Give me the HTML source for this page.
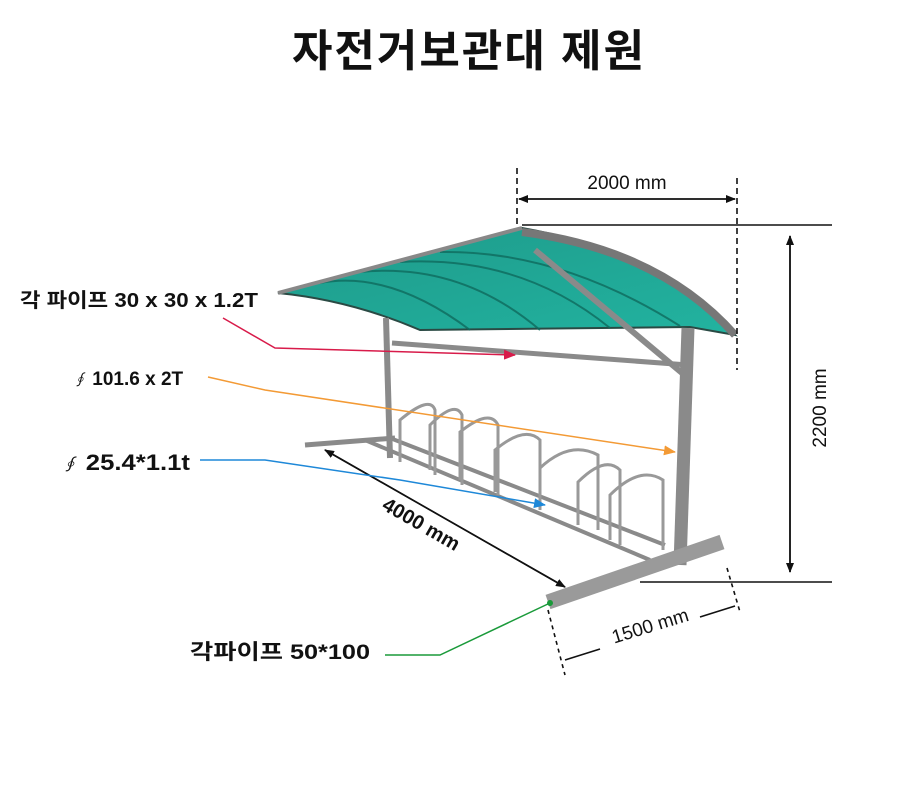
<!DOCTYPE html>
<html><head><meta charset="utf-8"><style>
html,body{margin:0;padding:0;background:#fff;}
svg{display:block;}
text{font-family:"Liberation Sans","Noto Sans CJK KR",sans-serif;fill:#111;}
</style></head><body>
<svg width="900" height="809" viewBox="0 0 900 809" xmlns="http://www.w3.org/2000/svg">
<defs>
<marker id="ak" markerWidth="10" markerHeight="8" refX="9" refY="4" orient="auto" markerUnits="userSpaceOnUse"><path d="M0,0 L10,4 L0,8 Z" fill="#111"/></marker>
<marker id="ar" markerWidth="12" markerHeight="10" refX="11" refY="5" orient="auto" markerUnits="userSpaceOnUse"><path d="M0,0 L12,5 L0,10 Z" fill="#d81b4a"/></marker>
<marker id="ao" markerWidth="12" markerHeight="10" refX="11" refY="5" orient="auto" markerUnits="userSpaceOnUse"><path d="M0,0 L12,5 L0,10 Z" fill="#f39a35"/></marker>
<marker id="ab" markerWidth="12" markerHeight="10" refX="11" refY="5" orient="auto" markerUnits="userSpaceOnUse"><path d="M0,0 L12,5 L0,10 Z" fill="#1e88d8"/></marker>
<marker id="ag" markerWidth="8" markerHeight="8" refX="4" refY="4" orient="auto" markerUnits="userSpaceOnUse"><circle cx="4" cy="4" r="3" fill="#1a9a3a"/></marker>
<linearGradient id="tg" x1="0" y1="0" x2="1" y2="1"><stop offset="0" stop-color="#1e9a8a"/><stop offset="1" stop-color="#22b3a0"/></linearGradient>
</defs>

<text x="469" y="66" text-anchor="middle" font-size="44" font-weight="bold" letter-spacing="2">자전거보관대 제원</text>

<path d="M278,293 L522,228 Q650,250 735,335 L690,327 L420,330 Q350,300 278,293 Z" fill="url(#tg)" stroke="#2a4a44" stroke-width="2"/>
<g stroke="#0f6b5e" stroke-width="2" fill="none" opacity="0.8">
<path d="M320,283 Q390,270 470,330"/><path d="M360,272 Q460,262 540,330"/><path d="M400,262 Q520,255 610,328"/><path d="M440,252 Q560,250 680,326"/>
</g>
<path d="M278,293 L522,228" stroke="#888" stroke-width="4"/>
<path d="M522,232 Q660,250 735,335" stroke="#777" stroke-width="8" fill="none"/>
<g stroke="#8a8a8a" fill="none">
<path d="M535,250 L688,378" stroke-width="6"/>
<path d="M392,343 L688,365" stroke-width="5"/>
<path d="M386,318 L390,458" stroke-width="6"/>
<path d="M688,328 L680,565" stroke-width="13"/>
<path d="M305,445 L395,438" stroke-width="5"/>
<path d="M365,440 L650,560" stroke-width="4"/>
<path d="M390,438 L665,545" stroke-width="4"/>
<path d="M548,602 L722,542" stroke-width="15" stroke="#9a9a9a"/>
</g>
<g stroke="#999" stroke-width="3" fill="none">
<path d="M400,462 L400,420 Q430,395 435,410 L435,475"/>
<path d="M430,470 L430,425 Q455,400 462,415 L462,485"/>
<path d="M460,480 L460,432 Q490,408 498,425 L498,495"/>
<path d="M495,492 L495,450 Q525,425 540,440 L540,510"/>
<path d="M540,510 L540,468 Q570,440 598,455 L598,530"/>
<path d="M578,525 L578,482 Q605,455 620,470 L620,545"/>
<path d="M610,540 L610,495 Q640,465 663,480 L663,550"/>
</g>

<g stroke="#111" stroke-width="1.6">
<line x1="517" y1="168" x2="517" y2="226" stroke-dasharray="6,4"/>
<line x1="737" y1="178" x2="737" y2="370" stroke-dasharray="6,4"/>
<line x1="519" y1="199" x2="735" y2="199" marker-end="url(#ak)"/>
<line x1="735" y1="199" x2="519" y2="199" marker-end="url(#ak)"/>
<line x1="522" y1="225" x2="832" y2="225"/>
<line x1="640" y1="582" x2="832" y2="582"/>
<line x1="790" y1="572" x2="790" y2="236" marker-end="url(#ak)"/>
<line x1="790" y1="236" x2="790" y2="572" marker-end="url(#ak)"/>
<line x1="325" y1="450" x2="565" y2="587" marker-end="url(#ak)"/>
<line x1="565" y1="587" x2="325" y2="450" marker-end="url(#ak)"/>
<line x1="548" y1="610" x2="565" y2="675" stroke-dasharray="4,4"/>
<line x1="727" y1="568" x2="740" y2="612" stroke-dasharray="4,4"/>
<line x1="565" y1="660" x2="600" y2="649"/>
<line x1="700" y1="617" x2="735" y2="606"/>
</g>
<text x="627" y="189" text-anchor="middle" font-size="19">2000 mm</text>
<text transform="translate(826,408) rotate(-90)" text-anchor="middle" font-size="19">2200 mm</text>
<text transform="translate(418,530) rotate(30)" text-anchor="middle" font-size="20" font-weight="bold">4000 mm</text>
<text transform="translate(652,632) rotate(-17)" text-anchor="middle" font-size="19">1500 mm</text>

<text x="20" y="307" font-size="20" font-weight="bold" textLength="238" lengthAdjust="spacingAndGlyphs">각 파이프 30 x 30 x 1.2T</text>
<text x="72" y="385" font-size="19" font-weight="bold"><tspan font-style="italic" font-weight="normal" font-size="15">∮</tspan> 101.6 x 2T</text>
<text x="60" y="470" font-size="22" font-weight="bold" textLength="130" lengthAdjust="spacingAndGlyphs"><tspan font-style="italic" font-weight="normal" font-size="16">∮</tspan> 25.4*1.1t</text>
<text x="190" y="659" font-size="21" font-weight="bold" textLength="180" lengthAdjust="spacingAndGlyphs">각파이프 50*100</text>

<polyline points="223,318 275,348 515,355" fill="none" stroke="#d81b4a" stroke-width="1.5" marker-end="url(#ar)"/>
<polyline points="208,377 265,390 675,452" fill="none" stroke="#f39a35" stroke-width="1.5" marker-end="url(#ao)"/>
<polyline points="200,460 265,460 400,480 545,505" fill="none" stroke="#1e88d8" stroke-width="1.5" marker-end="url(#ab)"/>
<polyline points="385,655 440,655 550,603" fill="none" stroke="#1a9a3a" stroke-width="1.5" marker-end="url(#ag)"/>
</svg>
</body></html>
